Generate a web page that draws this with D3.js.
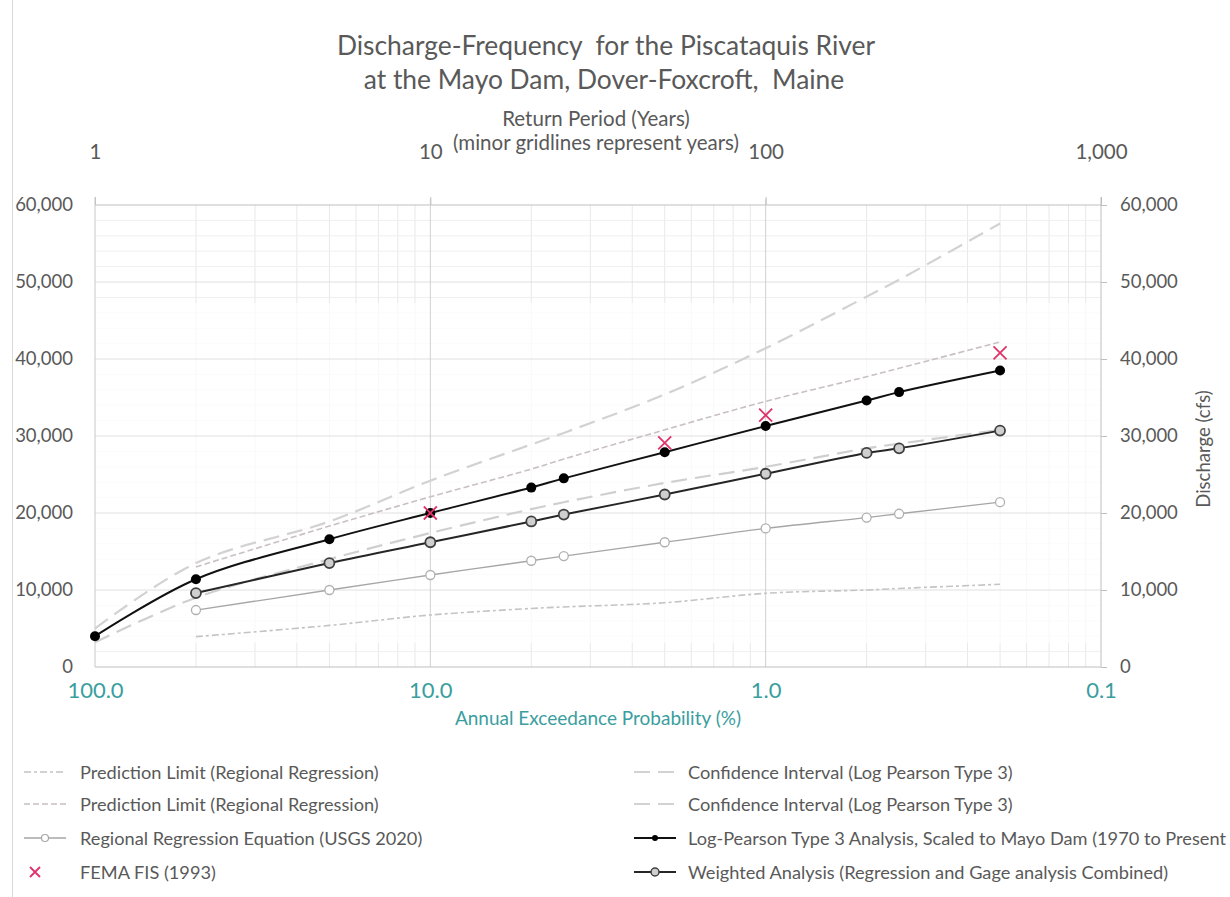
<!DOCTYPE html>
<html>
<head>
<meta charset="utf-8">
<script src="https://cdn.jsdelivr.net/npm/d3@7"></script>
<style>
  body { margin: 0; background: #fff; }
  svg text { font-family: Lato, "Open Sans", sans-serif; fill: #595959; }
</style>
</head>
<body>
<div id="chart"></div>
<script>
const width = 1230;
const height = 897;

// return periods (years) used by every series
const returnPeriods = [1, 2, 5, 10, 20, 25, 50, 100, 200, 250, 500];

// discharge (cfs), null where a series has no value
const lp3 = [4000, 11400, 16600, 20000, 23300, 24500, 27900, 31300, 34600, 35700, 38500];
const weighted = [null, 9600, 13500, 16200, 18900, 19800, 22400, 25100, 27800, 28400, 30700];
const regression = [null, 7400, 10000, 11950, 13800, 14400, 16200, 18000, 19400, 19900, 21400];
const ciUpper = [5000, 13500, 18900, 24200, 28900, 30400, 35400, 41400, 48100, 50300, 57600];
const ciLower = [3200, 9000, 14000, 17400, 20500, 21400, 23900, 26000, 28400, 29000, 30800];
const plUpper = [null, 13000, 18300, 22100, 25700, 27000, 30800, 34500, 37700, 38800, 42200];
const plLower = [null, 3940, 5400, 6750, 7600, 7800, 8350, 9570, 10000, 10200, 10740];

// FEMA FIS (1993)
const femaPeriods = [10, 50, 100, 500];
const femaValues = [20000, 29100, 32700, 40800];

// axis ticks
const periodTicks = [1, 10, 100, 1000];
const aepTicks = [100, 10, 1, 0.1];
const dischargeTicks = [0, 10000, 20000, 30000, 40000, 50000, 60000];

const legendLeft = [
  "Prediction Limit (Regional Regression)",
  "Prediction Limit (Regional Regression)",
  "Regional Regression Equation (USGS 2020)",
  "FEMA FIS (1993)"
];
// the reference cuts the third entry at the picture edge
const legendRight = [
  "Confidence Interval (Log Pearson Type 3)",
  "Confidence Interval (Log Pearson Type 3)",
  "Log-Pearson Type 3 Analysis, Scaled to Mayo Dam (1970 to Present",
  "Weighted Analysis (Regression and Gage analysis Combined)"
];

const teal = "#3a9e9e";
const red = "#e0336a";
const textColor = "#595959";

const plot = { left: 95, right: 1101, top: 205, bottom: 667 };

let svg = d3.select("#chart")
  .append("svg")
  .attr("width", width)
  .attr("height", height);

// outer chart border (left edge visible in reference)
svg.append("line")
  .attr("x1", 12.5).attr("x2", 12.5)
  .attr("y1", 0).attr("y2", height)
  .attr("stroke", "#d9d9d9");

let x = d3.scaleLog().domain([1, 1000]).range([plot.left, plot.right]);
let aep = d3.scaleLog().domain([100, 0.1]).range([plot.left, plot.right]);
let y = d3.scaleLinear().domain([0, 60000]).range([plot.bottom, plot.top]);

// minor gridlines: every year and every 2,000 cfs
let minorYears = [];
[1, 10, 100].forEach(d => { for (let i = 2; i <= 9; i++) minorYears.push(d * i); });
let minorQ = d3.range(2000, 60000, 2000).filter(d => d % 10000 !== 0);

svg.append("g")
  .selectAll("line")
  .data(minorYears)
  .join("line")
  .attr("x1", d => x(d)).attr("x2", d => x(d))
  .attr("y1", plot.top).attr("y2", plot.bottom)
  .attr("stroke", "#e8e8e8");

svg.append("g")
  .selectAll("line")
  .data(minorQ)
  .join("line")
  .attr("x1", plot.left).attr("x2", plot.right)
  .attr("y1", d => y(d)).attr("y2", d => y(d))
  .attr("stroke", "#efefef");

// washed-out lower region as seen in the reference
svg.append("rect")
  .attr("x", 20).attr("y", 303)
  .attr("width", 1190).attr("height", 340)
  .attr("fill", "#fff").attr("opacity", 0.7);

// major gridlines
svg.append("g")
  .selectAll("line")
  .data(dischargeTicks.slice(1))
  .join("line")
  .attr("x1", plot.left).attr("x2", plot.right)
  .attr("y1", d => y(d)).attr("y2", d => y(d))
  .attr("stroke", d => d === 60000 ? "#bfbfbf" : "#e0e0e0");

svg.append("g")
  .selectAll("line")
  .data([10, 100])
  .join("line")
  .attr("x1", d => x(d)).attr("x2", d => x(d))
  .attr("y1", plot.top - 6).attr("y2", plot.bottom)
  .attr("stroke", "#d0d0d0");

// axes
let topAxis = svg.append("g")
  .attr("transform", `translate(0,${plot.top})`)
  .call(d3.axisTop(x).tickValues(periodTicks).tickFormat(d3.format(",")).tickSize(6).tickPadding(40));
let bottomAxis = svg.append("g")
  .attr("transform", `translate(0,${plot.bottom})`)
  .call(d3.axisBottom(aep).tickValues(aepTicks).tickFormat(d3.format(".1f")).tickSize(0).tickPadding(15));
let leftAxis = svg.append("g")
  .attr("transform", `translate(${plot.left},0)`)
  .call(d3.axisLeft(y).tickValues(dischargeTicks).tickFormat(d3.format(",")).tickSize(0).tickPadding(22));
let rightAxis = svg.append("g")
  .attr("transform", `translate(${plot.right},0)`)
  .call(d3.axisRight(y).tickValues(dischargeTicks).tickFormat(d3.format(",")).tickSize(6).tickPadding(13));

[topAxis, bottomAxis, leftAxis, rightAxis].forEach(g => {
  g.select(".domain").remove();
  g.selectAll("line").attr("stroke", "#bfbfbf");
  g.selectAll("text").style("font-size", "18.5px").style("fill", textColor);
});
topAxis.selectAll("text").style("font-size", "20.5px");
bottomAxis.selectAll("text").style("fill", teal).style("font-size", "22px");
topAxis.selectAll("line").attr("y2", -8);

// axis lines
svg.append("line")
  .attr("x1", plot.left).attr("x2", plot.right)
  .attr("y1", plot.bottom).attr("y2", plot.bottom)
  .attr("stroke", "#bfbfbf");
svg.append("line")
  .attr("x1", plot.left).attr("x2", plot.left)
  .attr("y1", plot.top - 8).attr("y2", plot.bottom)
  .attr("stroke", "#c8c8c8");
svg.append("line")
  .attr("x1", plot.right).attr("x2", plot.right)
  .attr("y1", plot.top - 8).attr("y2", plot.bottom)
  .attr("stroke", "#bfbfbf");

// titles
svg.append("text")
  .attr("x", 606).attr("y", 54.5)
  .attr("text-anchor", "middle")
  .style("font-size", "26.4px")
  .text("Discharge-Frequency\u00a0 for the Piscataquis River");
svg.append("text")
  .attr("x", 604).attr("y", 88.5)
  .attr("text-anchor", "middle")
  .style("font-size", "26.4px")
  .text("at the Mayo Dam, Dover-Foxcroft,\u00a0 Maine");
svg.append("text")
  .attr("x", 596).attr("y", 126)
  .attr("text-anchor", "middle")
  .style("font-size", "20.5px")
  .text("Return Period (Years)");
svg.append("text")
  .attr("x", 596).attr("y", 150)
  .attr("text-anchor", "middle")
  .style("font-size", "20.5px")
  .text("(minor gridlines represent years)");
svg.append("text")
  .attr("x", 598).attr("y", 725)
  .attr("text-anchor", "middle")
  .style("font-size", "19px")
  .style("fill", teal)
  .text("Annual Exceedance Probability (%)");
svg.append("text")
  .attr("transform", "translate(1210,449) rotate(-90)")
  .attr("text-anchor", "middle")
  .style("font-size", "18.5px")
  .text("Discharge (cfs)");

// series
function points(values) {
  return returnPeriods.map((rp, i) => ({ rp: rp, q: values[i] })).filter(d => d.q != null);
}
let line = d3.line()
  .x(d => x(d.rp))
  .y(d => y(d.q))
  .curve(d3.curveCatmullRom.alpha(0.5));

const dashedSeries = [
  { values: plLower, color: "#c4c4c4", width: 1.6, dash: "7,3,3,3" },
  { values: plUpper, color: "#c9c0c3", width: 1.6, dash: "6,3" },
  { values: ciLower, color: "#cfcfcf", width: 2.2, dash: "16,8" },
  { values: ciUpper, color: "#d2d2d2", width: 2.2, dash: "16,8" }
];
dashedSeries.forEach(s => {
  svg.append("path")
    .datum(points(s.values))
    .attr("d", line)
    .attr("fill", "none")
    .attr("stroke", s.color)
    .attr("stroke-width", s.width)
    .attr("stroke-dasharray", s.dash);
});

// regional regression
svg.append("path")
  .datum(points(regression))
  .attr("d", line)
  .attr("fill", "none")
  .attr("stroke", "#a6a6a6")
  .attr("stroke-width", 1.3);
svg.append("g")
  .selectAll("circle")
  .data(points(regression))
  .join("circle")
  .attr("cx", d => x(d.rp)).attr("cy", d => y(d.q))
  .attr("r", 4.5)
  .attr("fill", "#fff")
  .attr("stroke", "#b0b0b0")
  .attr("stroke-width", 1.3);

// weighted analysis
svg.append("path")
  .datum(points(weighted))
  .attr("d", line)
  .attr("fill", "none")
  .attr("stroke", "#262626")
  .attr("stroke-width", 2);
svg.append("g")
  .selectAll("circle")
  .data(points(weighted))
  .join("circle")
  .attr("cx", d => x(d.rp)).attr("cy", d => y(d.q))
  .attr("r", 5)
  .attr("fill", "#cfcfcf")
  .attr("stroke", "#404040")
  .attr("stroke-width", 1.8);

// log-pearson type 3
svg.append("path")
  .datum(points(lp3))
  .attr("d", line)
  .attr("fill", "none")
  .attr("stroke", "#111")
  .attr("stroke-width", 2);
svg.append("g")
  .selectAll("circle")
  .data(points(lp3))
  .join("circle")
  .attr("cx", d => x(d.rp)).attr("cy", d => y(d.q))
  .attr("r", 5)
  .attr("fill", "#000");

// FEMA crosses
let cross = (g, cx, cy, s) => {
  g.append("path")
    .attr("d", `M${cx - s},${cy - s}L${cx + s},${cy + s}M${cx - s},${cy + s}L${cx + s},${cy - s}`)
    .attr("stroke", red)
    .attr("stroke-width", 1.8)
    .attr("fill", "none");
};
let femaG = svg.append("g");
femaPeriods.forEach((rp, i) => cross(femaG, x(rp), y(femaValues[i]), 6.5));

// legend
const rowY = [772, 804, 838, 872];
let legend = svg.append("g");
legendLeft.forEach((t, i) => {
  legend.append("text").attr("x", 80).attr("y", rowY[i] + 6.5)
    .style("font-size", "18.2px").text(t);
});
legendRight.forEach((t, i) => {
  legend.append("text").attr("x", 688).attr("y", rowY[i] + 6.5)
    .style("font-size", "18.2px").text(t);
});
let legendLine = (x1, yy, color, w, dash) => legend.append("line")
  .attr("x1", x1).attr("x2", x1 + 42)
  .attr("y1", yy).attr("y2", yy)
  .attr("stroke", color).attr("stroke-width", w)
  .attr("stroke-dasharray", dash);
legendLine(24, rowY[0], "#c4c4c4", 1.6, "7,3,3,3");
legendLine(24, rowY[1], "#c9c0c3", 1.6, "6,3");
legendLine(24, rowY[2], "#a6a6a6", 1.3, null);
legend.append("circle").attr("cx", 45).attr("cy", rowY[2]).attr("r", 3.5)
  .attr("fill", "#fff").attr("stroke", "#a6a6a6").attr("stroke-width", 1.2);
cross(legend, 35, rowY[3], 5);
legendLine(634, rowY[0], "#d2d2d2", 2.2, "16,8");
legendLine(634, rowY[1], "#d2d2d2", 2.2, "16,8");
legendLine(634, rowY[2], "#111", 2, null);
legend.append("circle").attr("cx", 655).attr("cy", rowY[2]).attr("r", 3).attr("fill", "#000");
legendLine(634, rowY[3], "#262626", 2, null);
legend.append("circle").attr("cx", 655).attr("cy", rowY[3]).attr("r", 4)
  .attr("fill", "#cfcfcf").attr("stroke", "#404040").attr("stroke-width", 1.5);
</script>
</body>
</html>
